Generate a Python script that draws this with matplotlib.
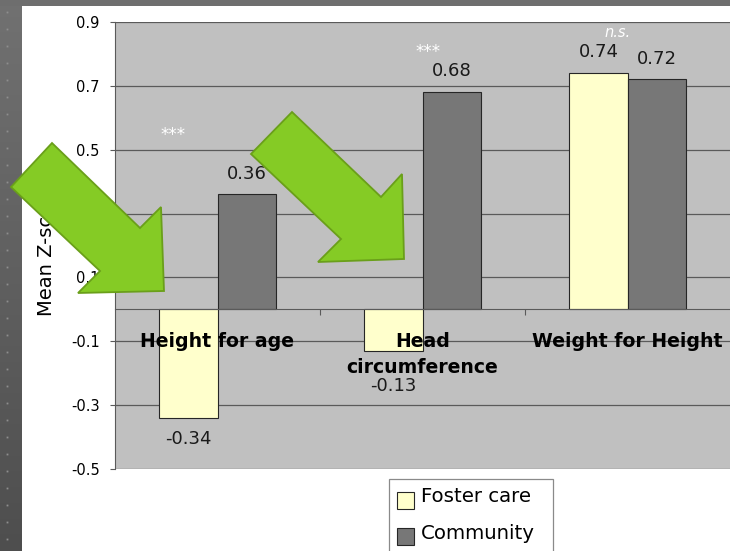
import matplotlib
matplotlib.use("Agg")
import matplotlib.pyplot as plt
import numpy as np
from matplotlib.patches import Polygon, Rectangle

# ---------------- data ----------------
categories = ["Height for age", "Head\ncircumference", "Weight for Height"]
series_names = ["Foster care", "Community"]
foster = [-0.34, -0.13, 0.74]
community = [0.36, 0.68, 0.72]
significance = ["***", "***", "n.s."]
yticks = [-0.5, -0.3, -0.1, 0.1, 0.3, 0.5, 0.7, 0.9]
ytick_labels = ["-0.5", "-0.3", "-0.1", "0.1", "0.3", "0.5", "0.7", "0.9"]
y_label = "Mean Z-score"

# ---------------- styles / layout ----------------
W, H = 730, 551
FOSTER_C = "#ffffcc"
COMM_C = "#777777"
PLOT_BG = "#c0c0c0"
GRID_C = "#5a5a5a"
ARROW_FILL = "#85cb25"
ARROW_EDGE = "#6a9f1a"

plt.rcParams["font.family"] = ["DejaVu Sans"]

fig = plt.figure(figsize=(W / 100, H / 100), dpi=100)
fig.patch.set_facecolor("white")


def fx(x):
    return x / W


def fy(y):
    return 1 - y / H


# slide frame: left gradient strip and top strip
sax = fig.add_axes([0, 0, fx(22), 1])
grad = np.linspace(0, 1, 256).reshape(-1, 1)
top_c = np.array([0x71, 0x71, 0x71]) / 255
bot_c = np.array([0x4e, 0x4e, 0x4e]) / 255
img = top_c[None, None, :] * (1 - grad[..., None]) + bot_c[None, None, :] * grad[..., None]
sax.imshow(img, extent=[0, 22, H, 0], aspect="auto")
dot_y = np.arange(12, H, 17)
sax.plot(np.full(len(dot_y), 7), dot_y, "s", ms=1.3, color="#8e8e8e", mew=0)
sax.set_xlim(0, 22)
sax.set_ylim(H, 0)
sax.axis("off")
fig.add_artist(Rectangle((0, fy(6)), 1, 6 / H, transform=fig.transFigure,
                         facecolor="#6e6e6e", edgecolor="none", zorder=1))

# ---------------- main axes ----------------
ax = fig.add_axes([fx(115), fy(469), fx(730) - fx(115), fy(22) - fy(469)])
ax.set_facecolor(PLOT_BG)
x = np.arange(len(categories))
bw = 0.283
bars_f = ax.bar(x - bw / 2, foster, bw, color=FOSTER_C, edgecolor="#262626", lw=0.8, zorder=2)
bars_c = ax.bar(x + bw / 2, community, bw, color=COMM_C, edgecolor="#262626", lw=0.8, zorder=2)
ax.set_xlim(-0.5, 2.5)
ax.set_ylim(-0.5, 0.9)

ax.set_yticks(yticks)
ax.set_yticklabels(ytick_labels)
# gridlines drawn behind the bars, axis (tick labels) drawn above them
for t in yticks:
    ax.axhline(t, color=GRID_C, lw=0.9, zorder=0.8)
ax.set_axisbelow(False)
ax.tick_params(axis="y", length=3.6, width=0.8, color=GRID_C, pad=7.5, labelsize=10.5)

ax.spines["bottom"].set_position(("data", 0))
ax.spines["bottom"].set_color(GRID_C)
ax.spines["left"].set_color(GRID_C)
ax.spines["top"].set_visible(False)
ax.spines["right"].set_visible(False)

ax.set_xticks(x)
ax.set_xticklabels(categories, fontweight="bold", fontsize=13.6, linespacing=1.45)
ax.set_xticks([0.5, 1.5], minor=True)
ax.tick_params(axis="x", which="major", length=0, pad=16.5)
ax.tick_params(axis="x", which="minor", length=4.5, width=0.8, color=GRID_C, direction="out")
for lab in ax.get_xticklabels():
    lab.set_zorder(4)

# value labels
label_off_f = [-8.5, -19, 8.5]
label_off_c = [8.5, 8.5, 8.5]
for bars, vals, offs in ((bars_f, foster, label_off_f), (bars_c, community, label_off_c)):
    for b, v, o in zip(bars, vals, offs):
        ax.annotate(f"{v:.2f}", xy=(b.get_x() + b.get_width() / 2, v),
                    xytext=(0, o), textcoords="offset points", ha="center",
                    va="bottom" if o > 0 else "top", fontsize=13, color="#1a1a1a",
                    zorder=3)

# significance markers
sig_dx = [-0.215, 0.025, -0.05]
sig_y = [0.546, 0.806, 0.866]
for xi, s, dx, sy in zip(x, significance, sig_dx, sig_y):
    ax.text(xi + dx, sy, s, ha="center", va="center", color="white",
            fontstyle="italic", fontsize=12 if s == "***" else 10.5, zorder=3)

# y label
fig.text(fx(46), fy(250), y_label, rotation=90, ha="center", va="center", fontsize=14)

# ---------------- legend (manual, box runs off the bottom) ----------------
fig.add_artist(Rectangle((fx(389), fy(560)), fx(553) - fx(389), fy(479) - fy(560),
                         transform=fig.transFigure, facecolor="white",
                         edgecolor="#8a8a8a", lw=0.9, clip_on=False, zorder=5))
leg_rows = [500, 536.5]
for name, col, yc in zip(series_names, [FOSTER_C, COMM_C], leg_rows):
    fig.add_artist(Rectangle((fx(397), fy(yc + 8.5)), 17 / W, 17 / H,
                             transform=fig.transFigure, facecolor=col,
                             edgecolor="#262626", lw=0.8, zorder=6))
    fig.text(fx(421), fy(yc - 3), name, ha="left", va="center", fontsize=14.2, zorder=6)

# ---------------- green arrows overlay ----------------
arrows = [
    [(52, 143), (140, 228), (161, 207), (164, 291), (78, 293), (100, 271), (11, 187)],
    [(292, 112), (381, 197), (402, 174), (404, 259), (318, 262), (341, 239), (251, 154)],
]
for pts in arrows:
    poly = Polygon([(fx(px), fy(py)) for px, py in pts], closed=True,
                   transform=fig.transFigure, facecolor=ARROW_FILL,
                   edgecolor=ARROW_EDGE, lw=1.3, zorder=20)
    fig.add_artist(poly)

fig.savefig("out.png", dpi=100)
